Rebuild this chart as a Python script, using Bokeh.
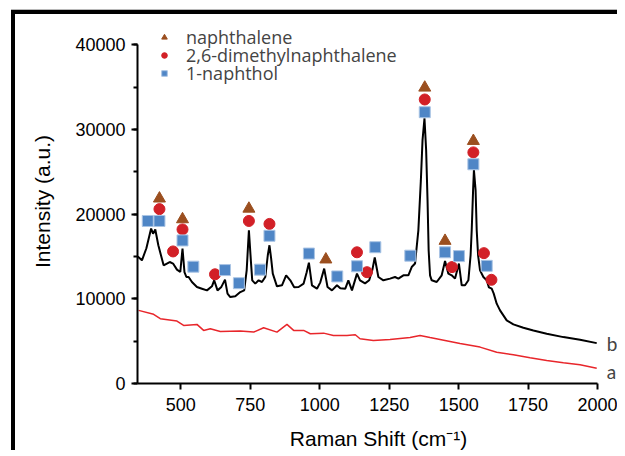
from bokeh.plotting import figure
from bokeh.models import Range1d, SingleIntervalTicker, Legend, LegendItem, Label
from bokeh.embed import file_html
from bokeh.resources import INLINE

# spectrum b (black)
b_x = [345, 360, 376, 393, 400, 408, 419, 438, 460, 472, 486, 498, 506, 513, 520, 528, 540, 558, 576,
       594, 612, 620, 632, 645, 659, 668, 678, 696, 714, 728, 737, 745, 752, 757, 768, 780, 792, 804,
       813, 819, 825, 831, 846, 864, 879, 894, 908, 924, 942, 953, 961, 972, 990, 1002, 1016, 1028,
       1044, 1062, 1074, 1092, 1103, 1116, 1134, 1145, 1163, 1178, 1189, 1198, 1211, 1229, 1253, 1271,
       1283, 1301, 1319, 1331, 1343, 1355, 1364, 1370, 1377, 1383, 1388, 1392, 1397, 1403, 1421, 1439,
       1451, 1463, 1475, 1487, 1501, 1511, 1523, 1535, 1543, 1547, 1552, 1555, 1561, 1565, 1570, 1577,
       1589, 1601, 1609, 1619, 1626, 1637, 1649, 1673, 1697, 1733, 1769, 1817, 1877, 1937, 1997]
b_y = [15000, 14550, 15980, 18300, 17700, 18190, 16330, 13960, 14350, 14170, 13450, 13170, 15940,
       13170, 12580, 12580, 11990, 11400, 11200, 11000, 11480, 12190, 11000, 11360, 12270, 10610,
       10210, 10300, 10800, 11000, 13370, 18100, 14550, 12190, 11800, 12190, 11990, 12580, 15150,
       16330, 14790, 12980, 11480, 11600, 12780, 12190, 11360, 11400, 11800, 13140, 14280, 11600,
       11200, 11950, 13570, 11400, 11000, 11600, 11240, 11200, 12190, 11000, 12980, 12190, 11830,
       12190, 13370, 14880, 12580, 12190, 12390, 12580, 12390, 12780, 12780, 13760, 14170, 18100,
       24020, 28760, 31330, 27570, 21660, 15740, 12780, 12190, 11990, 12780, 14470, 12980, 12780,
       12390, 14170, 11600, 11600, 12190, 15150, 18100, 22840, 25210, 22840, 18100, 15150, 13370,
       12580, 12190, 11360, 11200, 10650, 9430, 8640, 7460, 6980, 6590, 6270, 5880, 5480, 5170, 4770]

# spectrum a (red)
a_x = [348, 402, 426, 486, 510, 558, 582, 606, 642, 714, 762, 798, 846, 882, 906, 942, 966, 1014,
       1049, 1098, 1128, 1145, 1193, 1253, 1325, 1361, 1397, 1451, 1505, 1577, 1637, 1697, 1757,
       1817, 1877, 1937, 1997]
a_y = [8640, 8170, 7660, 7370, 6860, 6980, 6270, 6470, 6150, 6190, 6070, 6590, 6070, 6980, 6270,
       6270, 5880, 5950, 5680, 5680, 5760, 5290, 5090, 5210, 5440, 5680, 5440, 5090, 4730, 4300,
       3700, 3400, 3040, 2720, 2450, 2210, 1810]

# peak markers
naph_x = [423, 506, 745, 1022, 1378, 1451, 1553]
naph_y = [21850, 19400, 20650, 14650, 34950, 16850, 28650]
dmn_x = [423, 472, 506, 623, 745, 819, 1134, 1170, 1378, 1476, 1553, 1591, 1618]
dmn_y = [20600, 15600, 18200, 12900, 19200, 18850, 15500, 13150, 33550, 13750, 27300, 15400, 12250]
nol_x = [381, 423, 506, 545, 659, 709, 785, 819, 961, 1063, 1134, 1200, 1326, 1378, 1451, 1501,
         1553, 1601]
nol_y = [19200, 19200, 16900, 13800, 13400, 11850, 13450, 17450, 15350, 12650, 13850, 16100, 15100,
         32050, 15500, 15050, 25900, 13900]

legend_labels = ["naphthalene", "2,6-dimethylnaphthalene", "1-naphthol"]
x_title = "Raman Shift (cm\u207b\u00b9)"
y_title = "Intensity (a.u.)"

p = figure(width=606, height=440, output_backend="svg", toolbar_location=None,
           x_range=Range1d(344, 2079), y_range=Range1d(0, 43000),
           min_border_left=122, min_border_right=2, min_border_top=5, min_border_bottom=71)
p.styles = {"border-left": "4px solid black", "border-top": "4px solid black",
            "margin-left": "11px", "margin-top": "10px",
            "box-shadow": "0 -1px 0 #b8b8b8"}
p.outline_line_color = None
p.xgrid.visible = False
p.ygrid.visible = False

p.line(a_x, a_y, line_color="#e8262b", line_width=1.5)
p.line(b_x, b_y, line_color="black", line_width=2)

r1 = p.scatter(naph_x, naph_y, marker="triangle", size=12, fill_color="#9b4f1f", line_color="#9b4f1f")
r2 = p.scatter(dmn_x, dmn_y, marker="circle", size=11, fill_color="#d22027", line_color="#d22027")
r3 = p.scatter(nol_x, nol_y, marker="square", size=11, fill_color="#4f86c6", line_color="#a9c4e4",
               line_width=1)

for lab, r, vy in zip(legend_labels, [r1, r2, r3], [334, 316, 298]):
    lg = Legend(items=[LegendItem(label=lab, renderers=[r])],
                location=(20, vy), padding=0, margin=0, spacing=0, glyph_width=14,
                glyph_height=18, label_height=18, label_standoff=15,
                label_text_font="Open Sans", label_text_font_size="18px",
                border_line_color=None, background_fill_alpha=0)
    p.add_layout(lg, "center")

for ax in (p.xaxis[0], p.yaxis[0]):
    ax.axis_line_width = 2
    ax.major_tick_line_width = 2
    ax.minor_tick_line_width = 2
    ax.major_tick_in = 0
    ax.major_tick_out = 6
    ax.minor_tick_in = 0
    ax.minor_tick_out = 4
    ax.major_label_text_font = "Liberation Sans"
    ax.major_label_text_font_size = "18px"
    ax.major_label_text_color = "black"
    ax.axis_label_text_font = "Liberation Sans"
    ax.axis_label_text_font_size = "21px"
    ax.axis_label_text_font_style = "normal"
    ax.axis_label_text_color = "black"

p.xaxis.bounds = (344, 2000)
p.yaxis.bounds = (0, 40000)
p.xaxis.ticker = SingleIntervalTicker(interval=250, num_minor_ticks=0)
p.yaxis.ticker = SingleIntervalTicker(interval=10000, num_minor_ticks=2)
p.xaxis.axis_label = x_title
p.yaxis.axis_label = y_title
p.xaxis.major_label_standoff = 8
p.yaxis.major_label_standoff = 6
p.xaxis.axis_label_standoff = 13
p.yaxis.axis_label_standoff = 18

p.add_layout(Label(x=b_x[-1], y=b_y[-1], text="b", x_offset=10, text_baseline="middle",
                   text_font="Lato", text_font_size="19px"))
p.add_layout(Label(x=a_x[-1], y=a_y[-1], text="a", x_offset=10, y_offset=-3, text_baseline="middle",
                   text_font="Lato", text_font_size="19px"))

open("out.html", "w").write(file_html(p, INLINE))
